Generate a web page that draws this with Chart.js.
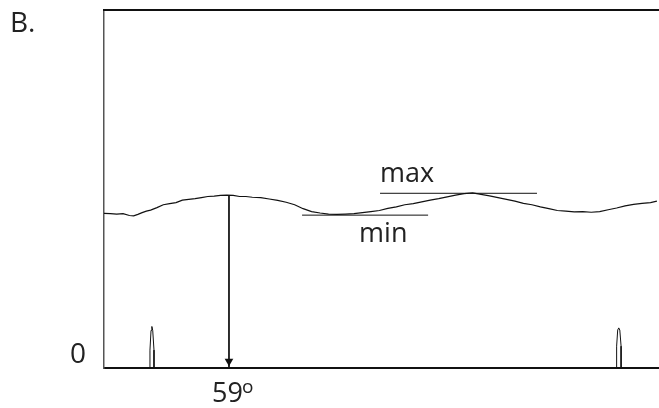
<!DOCTYPE html>
<html>
<head>
<meta charset="utf-8">
<script src="https://cdn.jsdelivr.net/npm/chart.js@4"></script>
<style>
  html, body { margin: 0; padding: 0; background: #fff; }
  #wrap { width: 659px; height: 408px; position: relative; }
</style>
</head>
<body>
<div id="wrap"><canvas id="chart"></canvas></div>
<script>
// angle (deg) and signal level
const waveX = [0, 3, 6, 9, 12, 14, 16, 18, 20, 22, 25, 28, 31, 34, 37, 40, 43, 46, 49, 52, 55, 58, 61, 64, 67, 70, 74, 78, 82, 86, 90, 94, 98, 102, 106, 110, 114, 118, 122, 126, 130, 134, 138, 142, 146, 150, 154, 158, 162, 166, 170, 174, 178, 182, 186, 190, 194, 198, 202, 206, 210, 214, 218, 222, 226, 230, 234, 238, 242, 246, 250, 254, 258, 261];
const waveY = [43.2, 43.1, 43.0, 43.1, 42.6, 42.5, 42.9, 43.4, 43.8, 44.1, 44.8, 45.6, 45.9, 46.2, 46.9, 47.1, 47.3, 47.6, 47.9, 48.0, 48.2, 48.3, 48.2, 47.9, 47.9, 47.7, 47.6, 47.2, 46.8, 46.3, 45.6, 44.5, 43.7, 43.3, 43.0, 42.9, 43.0, 43.1, 43.4, 43.7, 44.0, 44.6, 45.0, 45.6, 45.9, 46.4, 46.9, 47.3, 47.8, 48.3, 48.7, 48.9, 48.5, 48.1, 47.6, 47.1, 46.6, 46.0, 45.6, 45.0, 44.5, 44.0, 43.8, 43.6, 43.7, 43.5, 43.7, 44.2, 44.7, 45.3, 45.7, 46.0, 46.2, 46.6];

// narrow reference pulses near the bottom
const spike1X = [21.7, 21.7, 22.2, 22.6, 23.0, 23.6, 23.6];
const spike1Y = [0, 5.0, 10.5, 11.6, 10.5, 5.0, 0];
const spike2X = [242.0, 242.0, 242.5, 243.0, 243.5, 244.1, 244.1];
const spike2Y = [0, 6.1, 10.6, 11.2, 10.6, 6.1, 0];

const peakAngle = 59;
const peakLevel = 48.2;
const maxLevel = 48.8;
const maxRange = [130.3, 204.4];
const minLevel = 42.7;
const minRange = [93.5, 153.0];

const yTicks = [0];

const FONT = '"Open Sans", "Noto Sans", sans-serif';

const pts = (xs, ys) => xs.map((x, i) => ({ x, y: ys[i] }));

const lineDs = (data, width) => ({
  data,
  borderColor: '#111',
  borderWidth: width,
  pointRadius: 0,
  tension: 0,
  fill: false,
});

const annotations = {
  id: 'annotations',
  afterDraw(chart) {
    const { ctx, chartArea, scales } = chart;
    const x = scales.x, y = scales.y;
    ctx.save();

    // top frame line
    ctx.strokeStyle = '#111';
    ctx.lineWidth = 2;
    ctx.beginPath();
    ctx.moveTo(chartArea.left - 1, chartArea.top);
    ctx.lineTo(chartArea.right, chartArea.top);
    ctx.stroke();

    ctx.fillStyle = '#222';
    ctx.textBaseline = 'alphabetic';
    ctx.font = `28px ${FONT}`;
    ctx.textAlign = 'left';
    ctx.fillText('B.', 10, 32);

    ctx.font = `27px ${FONT}`;
    ctx.fillText('max', x.getPixelForValue(maxRange[0]), y.getPixelForValue(maxLevel) - 11);
    ctx.fillText('min', x.getPixelForValue(minRange[0]) + 57, y.getPixelForValue(minLevel) + 27);

    const px = x.getPixelForValue(peakAngle);
    ctx.fillText('59', px - 17, 402);
    ctx.font = `19px ${FONT}`;
    ctx.fillText('o', px + 13, 393);

    ctx.restore();
  }
};

new Chart(document.getElementById('chart'), {
  type: 'line',
  data: {
    datasets: [
      lineDs(pts(waveX, waveY), 1.2),
      lineDs(pts(spike1X, spike1Y), 1),
      lineDs(pts(spike2X, spike2Y), 1),
      lineDs([{ x: maxRange[0], y: maxLevel }, { x: maxRange[1], y: maxLevel }], 1),
      lineDs([{ x: minRange[0], y: minLevel }, { x: minRange[1], y: minLevel }], 1),
      lineDs([{ x: peakAngle, y: peakLevel }, { x: peakAngle, y: 0 }], 1),
      {
        data: [{ x: peakAngle, y: 1.9 }],
        showLine: false,
        pointStyle: 'triangle',
        rotation: 180,
        pointRadius: 5,
        backgroundColor: '#111',
        borderColor: '#111',
        borderWidth: 0,
      },
    ],
  },
  options: {
    responsive: true,
    maintainAspectRatio: false,
    animation: false,
    layout: { autoPadding: false, padding: { top: 10, right: 0, bottom: 0, left: 0 } },
    plugins: { legend: { display: false }, tooltip: { enabled: false } },
    scales: {
      x: {
        type: 'linear',
        min: 0,
        max: 262,
        grid: { display: false },
        ticks: { display: false },
        border: { display: true, color: '#111', width: 2 },
        afterFit(scale) { scale.height = 40; },
      },
      y: {
        min: 0,
        max: 100,
        grid: { display: false },
        border: { display: true, color: '#555', width: 1.5 },
        afterBuildTicks(scale) { scale.ticks = yTicks.map(v => ({ value: v })); },
        ticks: {
          color: '#222',
          font: { family: FONT, size: 28 },
          padding: 10,
          labelOffset: -13,
        },
        afterFit(scale) {
          scale.width = 104;
          scale.paddingTop = 0;
          scale.paddingBottom = 0;
        },
      },
    },
  },
  plugins: [annotations],
});
</script>
</body>
</html>
